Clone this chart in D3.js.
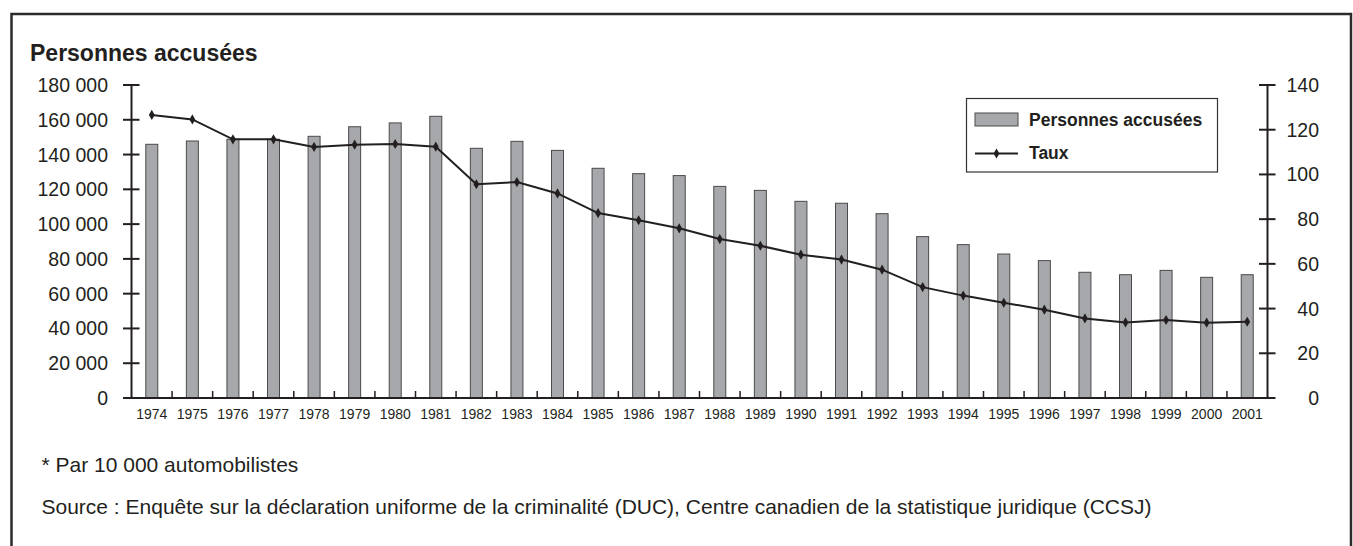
<!DOCTYPE html>
<html>
<head>
<meta charset="utf-8">
<script src="https://cdn.jsdelivr.net/npm/d3@7"></script>
<style>
  html, body { margin: 0; padding: 0; background: #fff; }
  svg { display: block; font-family: Arial, "Liberation Sans", Helvetica, sans-serif; }
</style>
</head>
<body>
<div id="chart"></div>
<script>
// data
const years = ['1974', '1975', '1976', '1977', '1978', '1979', '1980', '1981', '1982', '1983',
  '1984', '1985', '1986', '1987', '1988', '1989', '1990', '1991', '1992', '1993',
  '1994', '1995', '1996', '1997', '1998', '1999', '2000', '2001'];

// personnes accusées (left axis)
const charged = [145900, 147800, 148800, 148800, 150500, 156000, 158200, 162000, 143600, 147600,
  142400, 132100, 129000, 127900, 121700, 119400, 113100, 112000, 106000, 92800,
  88200, 82800, 79000, 72300, 70900, 73400, 69400, 70900];

// taux pour 10 000 automobilistes (right axis)
const rate = [126.6, 124.6, 115.7, 115.7, 112.3, 113.3, 113.6, 112.4, 95.6, 96.6,
  91.5, 82.7, 79.5, 75.9, 71.1, 68.1, 64.1, 61.9, 57.4, 49.6,
  45.8, 42.6, 39.5, 35.6, 33.8, 34.9, 33.7, 34.1];

const leftTicks = [0, 20000, 40000, 60000, 80000, 100000, 120000, 140000, 160000, 180000];
const rightTicks = [0, 20, 40, 60, 80, 100, 120, 140];

const W = 1353;
const H = 546;
const ink = '#231f20';

const plot = { left: 131.5, right: 1267.5, top: 85, bottom: 398 };

const fmt = v => d3.format(',')(v).replace(/,/g, ' ');

const svg = d3.select('#chart')
  .append('svg')
  .attr('width', W)
  .attr('height', H);

// outer frame (open at the bottom)
svg.append('path')
  .attr('d', `M11.5,${H} V14 H1351 V${H}`)
  .attr('fill', 'none')
  .attr('stroke', '#2b2b2b')
  .attr('stroke-width', 2.5);

svg.append('text')
  .text('Personnes accusées')
  .attr('x', 30)
  .attr('y', 61)
  .attr('font-size', 23)
  .attr('font-weight', 'bold')
  .attr('fill', ink);

const x = d3.scaleBand()
  .domain(years)
  .range([plot.left, plot.right])
  .padding(0);

const yL = d3.scaleLinear()
  .domain([0, 180000])
  .range([plot.bottom, plot.top]);

const yR = d3.scaleLinear()
  .domain([0, 140])
  .range([plot.bottom, plot.top]);

const barW = 12;

// bars
svg.append('g')
  .selectAll('rect')
  .data(charged)
  .enter()
  .append('rect')
  .attr('x', (d, i) => x(years[i]) + x.bandwidth() / 2 - barW / 2)
  .attr('y', d => yL(d))
  .attr('width', barW)
  .attr('height', d => yL(0) - yL(d))
  .attr('fill', '#a7a8ab')
  .attr('stroke', '#4a4a4a')
  .attr('stroke-width', 1);

// x axis: long baseline, small ticks between categories
const xAxis = svg.append('g');

xAxis.append('line')
  .attr('x1', 123)
  .attr('x2', 1275)
  .attr('y1', plot.bottom)
  .attr('y2', plot.bottom)
  .attr('stroke', ink)
  .attr('stroke-width', 2);

xAxis.selectAll('line.tick')
  .data(years.slice(1))
  .enter()
  .append('line')
  .attr('class', 'tick')
  .attr('x1', d => x(d))
  .attr('x2', d => x(d))
  .attr('y1', plot.bottom)
  .attr('y2', plot.bottom - 7)
  .attr('stroke', ink)
  .attr('stroke-width', 1.5);

xAxis.selectAll('text')
  .data(years)
  .enter()
  .append('text')
  .text(d => d)
  .attr('x', d => x(d) + x.bandwidth() / 2)
  .attr('y', 419)
  .attr('text-anchor', 'middle')
  .attr('font-size', 14)
  .attr('fill', ink);

// left axis
const left = svg.append('g');

left.append('line')
  .attr('x1', plot.left)
  .attr('x2', plot.left)
  .attr('y1', plot.top)
  .attr('y2', plot.bottom)
  .attr('stroke', ink)
  .attr('stroke-width', 2);

left.selectAll('line.tick')
  .data(leftTicks)
  .enter()
  .append('line')
  .attr('class', 'tick')
  .attr('x1', 123)
  .attr('x2', 139.5)
  .attr('y1', d => yL(d))
  .attr('y2', d => yL(d))
  .attr('stroke', ink)
  .attr('stroke-width', 2);

left.selectAll('text')
  .data(leftTicks)
  .enter()
  .append('text')
  .text(d => fmt(d))
  .attr('x', 108)
  .attr('y', d => yL(d) + 7)
  .attr('text-anchor', 'end')
  .attr('font-size', 19.5)
  .attr('fill', ink);

// right axis
const right = svg.append('g');

right.append('line')
  .attr('x1', plot.right)
  .attr('x2', plot.right)
  .attr('y1', plot.top)
  .attr('y2', plot.bottom)
  .attr('stroke', ink)
  .attr('stroke-width', 2);

right.selectAll('line.tick')
  .data(rightTicks)
  .enter()
  .append('line')
  .attr('class', 'tick')
  .attr('x1', 1259)
  .attr('x2', 1275.5)
  .attr('y1', d => yR(d))
  .attr('y2', d => yR(d))
  .attr('stroke', ink)
  .attr('stroke-width', 2);

right.selectAll('text')
  .data(rightTicks)
  .enter()
  .append('text')
  .text(d => d)
  .attr('x', 1319)
  .attr('y', d => yR(d) + 7)
  .attr('text-anchor', 'end')
  .attr('font-size', 19.5)
  .attr('fill', ink);

// rate line with diamond markers
const line = d3.line()
  .x((d, i) => x(years[i]) + x.bandwidth() / 2)
  .y(d => yR(d));

svg.append('path')
  .datum(rate)
  .attr('d', line)
  .attr('fill', 'none')
  .attr('stroke', ink)
  .attr('stroke-width', 2);

const diamond = d3.symbol().type(d3.symbolDiamond).size(30);

svg.append('g')
  .selectAll('path')
  .data(rate)
  .enter()
  .append('path')
  .attr('d', diamond)
  .attr('transform', (d, i) => `translate(${x(years[i]) + x.bandwidth() / 2}, ${yR(d)})`)
  .attr('fill', ink);

// legend
const legend = svg.append('g');

legend.append('rect')
  .attr('x', 966.5)
  .attr('y', 98.5)
  .attr('width', 251)
  .attr('height', 73.5)
  .attr('fill', '#fff')
  .attr('stroke', '#333')
  .attr('stroke-width', 1.2);

legend.append('rect')
  .attr('x', 975)
  .attr('y', 113)
  .attr('width', 43)
  .attr('height', 13)
  .attr('fill', '#a7a8ab')
  .attr('stroke', '#4a4a4a')
  .attr('stroke-width', 1);

legend.append('text')
  .text('Personnes accusées')
  .attr('x', 1029)
  .attr('y', 125.5)
  .attr('font-size', 17.5)
  .attr('font-weight', 'bold')
  .attr('fill', ink);

legend.append('line')
  .attr('x1', 975)
  .attr('x2', 1018)
  .attr('y1', 153.5)
  .attr('y2', 153.5)
  .attr('stroke', ink)
  .attr('stroke-width', 2);

legend.append('path')
  .attr('d', diamond)
  .attr('transform', 'translate(996.5, 153.5)')
  .attr('fill', ink);

legend.append('text')
  .text('Taux')
  .attr('x', 1029)
  .attr('y', 159)
  .attr('font-size', 17.5)
  .attr('font-weight', 'bold')
  .attr('fill', ink);

// notes
svg.append('text')
  .text('* Par 10 000 automobilistes')
  .attr('x', 41.5)
  .attr('y', 471.5)
  .attr('font-size', 21)
  .attr('fill', ink);

svg.append('text')
  .text('Source : Enquête sur la déclaration uniforme de la criminalité (DUC), Centre canadien de la statistique juridique (CCSJ)')
  .attr('x', 41.5)
  .attr('y', 513.5)
  .attr('font-size', 21)
  .attr('fill', ink);
</script>
</body>
</html>
